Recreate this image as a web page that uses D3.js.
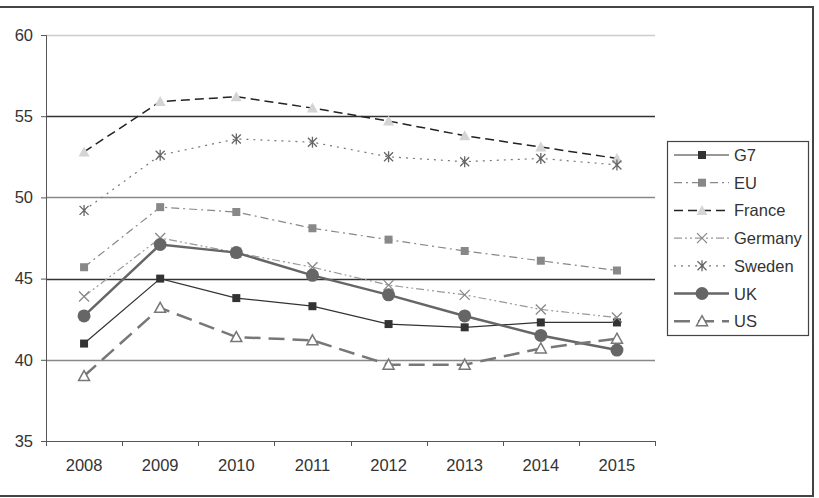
<!DOCTYPE html>
<html>
<head>
<meta charset="utf-8">
<script src="https://cdn.jsdelivr.net/npm/d3@7"></script>
<style>
  body { margin: 0; background: #fff; }
  text { font-family: "Liberation Sans", Arial, sans-serif; }
</style>
</head>
<body>
<div id="chart"></div>
<script>
// years along the x axis
var years = ["2008", "2009", "2010", "2011", "2012", "2013", "2014", "2015"];
var yTicks = [35, 40, 45, 50, 55, 60];

// series values
var g7 = [41.0, 45.0, 43.8, 43.3, 42.2, 42.0, 42.3, 42.3];
var eu = [45.7, 49.4, 49.1, 48.1, 47.4, 46.7, 46.1, 45.5];
var france = [52.8, 55.9, 56.2, 55.5, 54.7, 53.8, 53.1, 52.4];
var germany = [43.9, 47.5, 46.6, 45.7, 44.6, 44.0, 43.1, 42.6];
var sweden = [49.2, 52.6, 53.6, 53.4, 52.5, 52.2, 52.4, 52.0];
var uk = [42.7, 47.1, 46.6, 45.2, 44.0, 42.7, 41.5, 40.6];
var us = [39.0, 43.2, 41.4, 41.2, 39.7, 39.7, 40.7, 41.3];

var seriesNames = ["G7", "EU", "France", "Germany", "Sweden", "UK", "US"];
var seriesValues = [g7, eu, france, germany, sweden, uk, us];

// look of each series
var styles = {
  "G7":      {stroke: "#333", width: 1.2, dash: null,          marker: "square",   fill: "#333", mstroke: "none"},
  "EU":      {stroke: "#888", width: 1.2, dash: "8,4,2,4",     marker: "square",   fill: "#888", mstroke: "none"},
  "France":  {stroke: "#222", width: 1.5, dash: "9,5",         marker: "triangle", fill: "#d4d4d4", mstroke: "none"},
  "Germany": {stroke: "#999", width: 1.2, dash: "8,3,2,3,2,3", marker: "cross",    fill: "none", mstroke: "#888"},
  "Sweden":  {stroke: "#777", width: 1.2, dash: "2,5",         marker: "star",     fill: "none", mstroke: "#666"},
  "UK":      {stroke: "#666", width: 2.5, dash: null,          marker: "circle",   fill: "#666", mstroke: "none"},
  "US":      {stroke: "#777", width: 2.5, dash: "16,8",        marker: "otri",     fill: "#fff", mstroke: "#777"}
};

var W = 819, H = 498;
var margin = {top: 35, left: 46, right: 164, bottom: 57};
var plotW = W - margin.left - margin.right,
    plotH = H - margin.top - margin.bottom;
var fontSize = "16.5px", textColor = "#333";

var svg = d3.select("#chart").append("svg")
    .attr("width", W)
    .attr("height", H);

// outer frame
svg.append("rect")
    .attr("x", -2).attr("y", 7)
    .attr("width", 815).attr("height", 489)
    .attr("fill", "none")
    .attr("stroke", "#444")
    .attr("stroke-width", 2);

var g = svg.append("g")
    .attr("transform", "translate(" + margin.left + "," + margin.top + ")");

var x = d3.scaleBand()
    .domain(years)
    .range([0, plotW]);

var y = d3.scaleLinear()
    .domain([35, 60])
    .range([plotH, 0]);

// horizontal gridlines
var gridColors = {40: "#888", 45: "#333", 50: "#888", 55: "#333", 60: "#ccc"};
g.selectAll(".grid")
  .data(yTicks.filter(function(d) { return d > 35; }))
  .enter().append("line")
    .attr("class", "grid")
    .attr("x1", 0).attr("x2", plotW)
    .attr("y1", function(d) { return Math.round(y(d)) + 0.5; })
    .attr("y2", function(d) { return Math.round(y(d)) + 0.5; })
    .attr("stroke", function(d) { return gridColors[d]; })
    .attr("stroke-width", 1.3);

// y axis
var yAxis = g.append("g")
    .call(d3.axisLeft(y).tickValues(yTicks).tickSize(5).tickPadding(8));
yAxis.select(".domain").attr("stroke", "#555");
yAxis.selectAll(".tick line").attr("stroke", "#555");
yAxis.selectAll("text").style("font-size", fontSize).attr("fill", textColor);

// x axis, ticks at band edges
var xAxis = g.append("g")
    .attr("transform", "translate(0," + plotH + ")")
    .call(d3.axisBottom(x).tickSize(0).tickPadding(18));
xAxis.select(".domain").attr("stroke", "#555");
xAxis.selectAll("text").style("font-size", fontSize).attr("fill", textColor);
xAxis.selectAll(".edge")
  .data(years.concat(["end"]))
  .enter().append("line")
    .attr("x1", function(d, i) { return Math.round(i * x.step()) + 0.5; })
    .attr("x2", function(d, i) { return Math.round(i * x.step()) + 0.5; })
    .attr("y1", 0).attr("y2", 5)
    .attr("stroke", "#555");

function drawMarker(sel, type, st) {
  var m;
  if (type === "square") {
    m = sel.append("rect").attr("x", -4).attr("y", -4).attr("width", 8).attr("height", 8);
  } else if (type === "circle") {
    m = sel.append("circle").attr("r", 6.5);
  } else if (type === "triangle" || type === "otri") {
    m = sel.append("path").attr("d", "M0,-5.5L5.5,4.5L-5.5,4.5Z");
  } else if (type === "cross") {
    m = sel.append("path").attr("d", "M-5,-5L5,5M-5,5L5,-5");
  } else if (type === "star") {
    m = sel.append("path").attr("d", "M-4.5,-4.5L4.5,4.5M-4.5,4.5L4.5,-4.5M0,-5.5L0,5.5");
  }
  m.attr("fill", st.fill)
   .attr("stroke", st.mstroke)
   .attr("stroke-width", type === "otri" ? 1.5 : 1.3);
}

var line = d3.line()
    .x(function(d, i) { return x(years[i]) + x.bandwidth() / 2; })
    .y(function(d) { return y(d); });

seriesNames.forEach(function(name, k) {
  var st = styles[name];
  var vals = seriesValues[k];
  g.append("path")
      .datum(vals)
      .attr("d", line)
      .attr("fill", "none")
      .attr("stroke", st.stroke)
      .attr("stroke-width", st.width)
      .attr("stroke-dasharray", st.dash);
  g.selectAll(".m" + k)
    .data(vals)
    .enter().append("g")
      .attr("class", "m" + k)
      .attr("transform", function(d, i) {
        return "translate(" + (x(years[i]) + x.bandwidth() / 2) + "," + y(d) + ")";
      })
      .each(function() { drawMarker(d3.select(this), st.marker, st); });
});

// legend
var legend = svg.append("g").attr("transform", "translate(667,141)");
legend.append("rect")
    .attr("x", 0.5).attr("y", 0.5)
    .attr("width", 141).attr("height", 194)
    .attr("fill", "#fff")
    .attr("stroke", "#444")
    .attr("stroke-width", 1.2);

var item = legend.selectAll(".item")
  .data(seriesNames)
  .enter().append("g")
    .attr("class", "item")
    .attr("transform", function(d, i) { return "translate(0," + (14 + i * 27.7) + ")"; });

item.append("line")
    .attr("x1", 7).attr("x2", 62)
    .attr("y1", 0).attr("y2", 0)
    .attr("stroke", function(d) { return styles[d].stroke; })
    .attr("stroke-width", function(d) { return styles[d].width; })
    .attr("stroke-dasharray", function(d) { return styles[d].dash; });

item.append("g")
    .attr("transform", "translate(35,0)")
    .each(function(d) { drawMarker(d3.select(this), styles[d].marker, styles[d]); });

item.append("text")
    .attr("x", 67).attr("y", 6)
    .style("font-size", fontSize)
    .attr("fill", textColor)
    .text(function(d) { return d; });
</script>
</body>
</html>
